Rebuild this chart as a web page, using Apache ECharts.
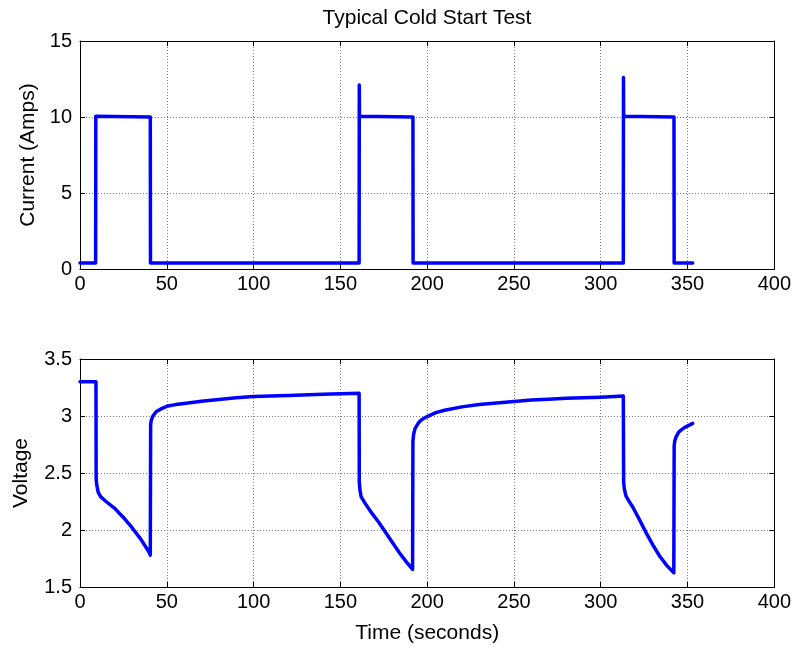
<!DOCTYPE html>
<html>
<head>
<meta charset="utf-8">
<script src="https://cdn.jsdelivr.net/npm/echarts@6/dist/echarts.min.js"></script>
<style>html,body{margin:0;padding:0;background:#fff}#c{width:794px;height:648px}</style>
</head>
<body>
<div id="c"></div>
<script>
const titleText = "Typical Cold Start Test";
const xName = "Time (seconds)";
const y1Name = "Current (Amps)";
const y2Name = "Voltage";

const tCurrent = [0, 9.0, 9.1, 40.5, 40.6, 160.8, 160.9, 161.0, 191.8, 191.9, 313.0, 313.1, 313.2, 342.2, 342.3, 353];
const iCurrent = [0.4, 0.4, 10.05, 10.0, 0.4, 0.4, 12.1, 10.05, 10.0, 0.4, 0.4, 12.6, 10.05, 10.0, 0.4, 0.4];

const tVoltage = [0, 9.2, 9.3, 9.6, 10.5, 12, 15, 20, 25, 30, 35, 40, 40.5, 40.7, 41, 42, 44, 47, 50, 55, 60, 70, 80, 90, 100, 120, 140, 160.8,
  160.9, 161.3, 162, 164, 168, 172, 176, 180, 184, 188, 191.6, 191.8, 192.2, 193, 195, 197, 200, 205, 210, 220, 230, 240, 250, 260, 270, 280, 290, 300, 313,
  313.2, 313.6, 314.5, 316, 318.5, 322, 326, 330, 334, 338, 342.1, 342.3, 342.6, 343.5, 345, 347, 349, 351, 353];
const vVoltage = [3.3, 3.3, 2.45, 2.40, 2.33, 2.29, 2.25, 2.19, 2.11, 2.02, 1.92, 1.80, 1.78, 2.92, 2.96, 3.0, 3.04, 3.065, 3.085, 3.10, 3.11, 3.13, 3.145, 3.16, 3.17, 3.18, 3.19, 3.2,
  2.42, 2.35, 2.29, 2.24, 2.15, 2.07, 1.98, 1.89, 1.80, 1.72, 1.655, 2.78, 2.84, 2.89, 2.94, 2.97, 2.995, 3.03, 3.05, 3.08, 3.10, 3.115, 3.128, 3.14, 3.148, 3.155, 3.16, 3.165, 3.175,
  2.42, 2.36, 2.30, 2.26, 2.20, 2.10, 1.98, 1.87, 1.77, 1.69, 1.625, 2.73, 2.78, 2.82, 2.86, 2.885, 2.905, 2.92, 2.935];

const xTicks = {min: 0, max: 400, interval: 50};
const y1Ticks = {min: 0, max: 15, interval: 5};
const y2Ticks = {min: 1.5, max: 3.5, interval: 0.5};

const FONT = 'Arial, "Liberation Sans", sans-serif';
const lbl = {color: '#000', fontSize: 20, fontFamily: FONT};
const nameLbl = {color: '#000', fontSize: 21, fontFamily: FONT};
const split = {show: true, lineStyle: {color: '#7a7a7a', type: [1, 2], width: 1}};
const line = {show: true, onZero: false, lineStyle: {color: '#000', width: 1}};
const tick = {show: true, inside: true, length: 5, lineStyle: {color: '#000'}};

function xa(grid, pos, withLabel) {
  return Object.assign({type: 'value', gridIndex: grid, position: pos}, xTicks, {
    axisLine: line, axisTick: tick, splitLine: pos === 'bottom' ? split : {show: false},
    axisLabel: withLabel ? Object.assign({margin: 5}, lbl) : {show: false},
    name: (grid === 1 && pos === 'bottom') ? xName : '',
    nameLocation: 'middle', nameGap: 36, nameTextStyle: nameLbl
  });
}
function ya(grid, pos, ticks, name, gap) {
  const isL = pos === 'left';
  return Object.assign({type: 'value', gridIndex: grid, position: pos}, ticks, {
    axisLine: line, axisTick: tick, splitLine: isL ? split : {show: false},
    axisLabel: isL ? Object.assign({margin: 8, formatter: v => String(v)}, lbl) : {show: false},
    name: isL ? name : '', nameLocation: 'middle', nameGap: gap, nameTextStyle: nameLbl
  });
}

const chart = echarts.init(document.getElementById('c'), null, {renderer: 'canvas'});
chart.setOption({
  animation: false,
  backgroundColor: '#fff',
  title: {text: titleText, left: 427, top: 8, textAlign: 'center', padding: 0,
    textStyle: {color: '#000', fontSize: 21, fontWeight: 'normal', fontFamily: FONT}},
  grid: [
    {left: 80, top: 41, width: 695, height: 228},
    {left: 80, top: 359, width: 695, height: 228}
  ],
  xAxis: [xa(0, 'bottom', true), xa(0, 'top', false), xa(1, 'bottom', true), xa(1, 'top', false)],
  yAxis: [ya(0, 'left', y1Ticks, y1Name, 41), ya(0, 'right', y1Ticks, '', 0),
          ya(1, 'left', y2Ticks, y2Name, 48), ya(1, 'right', y2Ticks, '', 0)],
  series: [
    {type: 'line', xAxisIndex: 0, yAxisIndex: 0, showSymbol: false, symbol: 'none',
      lineStyle: {color: '#0000ff', width: 3.5, join: 'round', cap: 'round'}, data: tCurrent.map((t, i) => [t, iCurrent[i]])},
    {type: 'line', xAxisIndex: 2, yAxisIndex: 2, showSymbol: false, symbol: 'none',
      lineStyle: {color: '#0000ff', width: 3.5, join: 'round', cap: 'round'}, data: tVoltage.map((t, i) => [t, vVoltage[i]])}
  ]
});
</script>
</body>
</html>
